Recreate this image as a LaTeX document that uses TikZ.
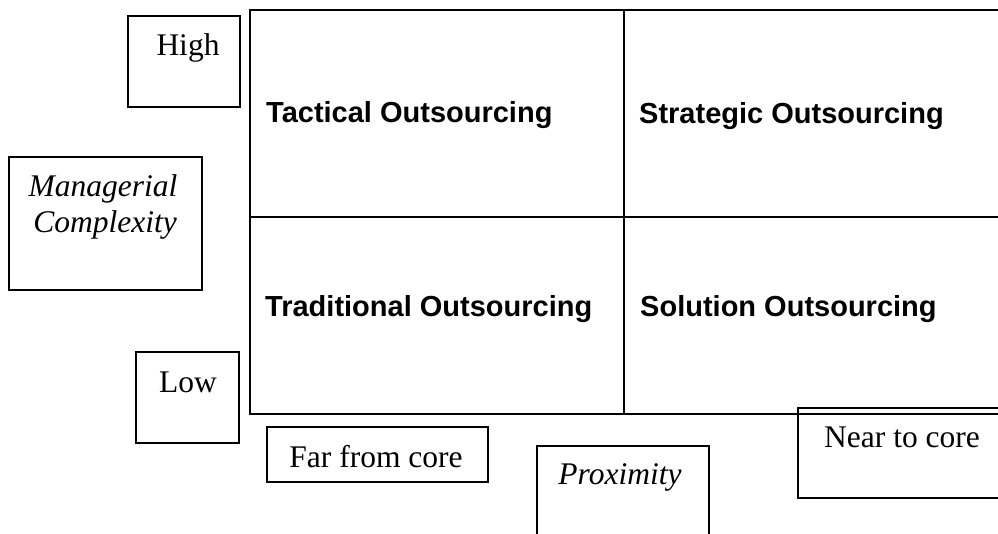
\documentclass[tikz,border=0pt]{standalone}
\usepackage{fontspec}
\setmainfont{Liberation Serif}
\newfontfamily\quadfont{Liberation Sans}
\begin{document}
\begin{tikzpicture}[x=1pt,y=-1pt,
  quadrant/.style={draw=black,line width=2pt,inner sep=0pt},
  tagbox/.style={draw=black,line width=1.2pt,inner sep=0pt},
  quadlabel/.style={anchor=base west,inner sep=0pt,font=\quadfont\bfseries\fontsize{29}{34}\selectfont},
  axislabel/.style={anchor=base,inner sep=0pt,font=\fontsize{31.5}{36}\selectfont},
  axistitle/.style={anchor=base,inner sep=0pt,font=\itshape\fontsize{31.5}{36}\selectfont}]
\useasboundingbox (0,0) rectangle (998,534);
\clip (0,0) rectangle (998,534);

% the four quadrants of the matrix
\node[quadrant,minimum width=374pt,minimum height=207pt] (tac) at (437,113.5) {};
\node[quadrant,minimum width=386pt,minimum height=207pt] (str) at (817,113.5) {};
\node[quadrant,minimum width=374pt,minimum height=197pt] (tra) at (437,315.5) {};
\node[quadrant,minimum width=386pt,minimum height=197pt] (sol) at (817,315.5) {};

\node[quadlabel] (tactxt) at (266,123) {Tactical Outsourcing};
\node[quadlabel] (strtxt) at (639,124) {Strategic Outsourcing};
\node[quadlabel] (tratxt) at (265,317) {Traditional Outsourcing};
\node[quadlabel] (soltxt) at (640,317) {Solution Outsourcing};

% vertical axis
\node[tagbox,minimum width=112pt,minimum height=91pt] (high) at (184,61.5) {};
\node[axislabel] (hightxt) at (188,56) {High};
\node[tagbox,minimum width=193pt,minimum height=133pt] (mgr) at (105.5,223.5) {};
\node[axistitle] (mgrtxt1) at (103,197) {Managerial};
\node[axistitle] (mgrtxt2) at (105,233) {Complexity};
\node[tagbox,minimum width=103pt,minimum height=91pt] (low) at (187.5,397.5) {};
\node[axislabel] (lowtxt) at (188,392) {Low};

% horizontal axis
\node[tagbox,minimum width=221pt,minimum height=55pt] (far) at (377.5,454.5) {};
\node[axislabel] (fartxt) at (376,467) {Far from core};
\node[tagbox,minimum width=172pt,minimum height=114pt] (prox) at (623,503) {};
\node[axistitle] (proxtxt) at (620,484) {Proximity};
\node[tagbox,minimum width=212pt,minimum height=90pt] (near) at (904,453) {};
\node[axislabel] (neartxt) at (902,447) {Near to core};
\end{tikzpicture}
\end{document}
